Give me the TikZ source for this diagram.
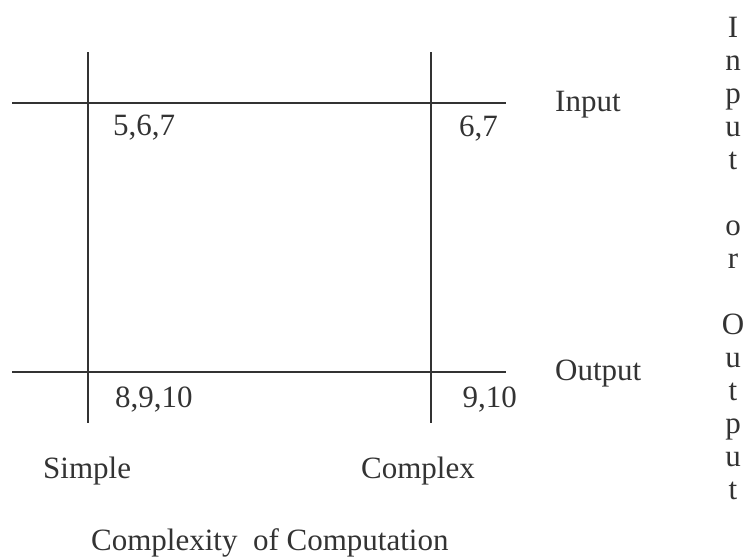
\documentclass[tikz,border=0pt]{standalone}
\usepackage{fontspec}
\setmainfont{Liberation Serif}
\definecolor{ink}{HTML}{333333}
\begin{document}
\begin{tikzpicture}[x=1pt,y=-1pt,
  axisline/.style={draw=ink,line width=2.5pt},
  lbl/.style={inner sep=0pt,text=ink,font=\fontsize{31}{33}\selectfont},
  lw/.style={lbl,anchor=base west},
  le/.style={lbl,anchor=base east},
  col/.style={lbl,anchor=base}]
\useasboundingbox (0,0) rectangle (750,557);
% axis end points
\coordinate (tl) at (12,103);
\coordinate (tr) at (506,103);
\coordinate (bl) at (12,372);
\coordinate (br) at (506,372);
\coordinate (lt) at (88,52);
\coordinate (lb) at (88,423);
\coordinate (rt) at (431,52);
\coordinate (rb) at (431,423);
\draw[axisline] (tl) -- (tr);
\draw[axisline] (bl) -- (br);
\draw[axisline] (lt) -- (lb);
\draw[axisline] (rt) -- (rb);
% labels
\node[lw] (a) at (113,135) {5,6,7};
\node[le] (b) at (498,136) {6,7};
\node[lw] (inp) at (555,111) {Input};
\node[lw] (c) at (115,407) {8,9,10};
\node[le] (d) at (517,407) {9,10};
\node[lw] (outp) at (555,380) {Output};
\node[lw] (simple) at (43,478) {Simple};
\node[lw] (complex) at (361,478) {Complex};
\node[lw] (title) at (91,550) {Complexity\ \ of Computation};
% vertical column
\node[col] (v1) at (733,37) {I};
\node[col] (v2) at (733,70) {n};
\node[col] (v3) at (733,103) {p};
\node[col] (v4) at (733,136) {u};
\node[col] (v5) at (733,169) {t};
\node[col] (v6) at (733,235) {o};
\node[col] (v7) at (733,268) {r};
\node[col] (v8) at (733,334) {O};
\node[col] (v9) at (733,367) {u};
\node[col] (v10) at (733,400) {t};
\node[col] (v11) at (733,433) {p};
\node[col] (v12) at (733,466) {u};
\node[col] (v13) at (733,499) {t};
\end{tikzpicture}
\end{document}
